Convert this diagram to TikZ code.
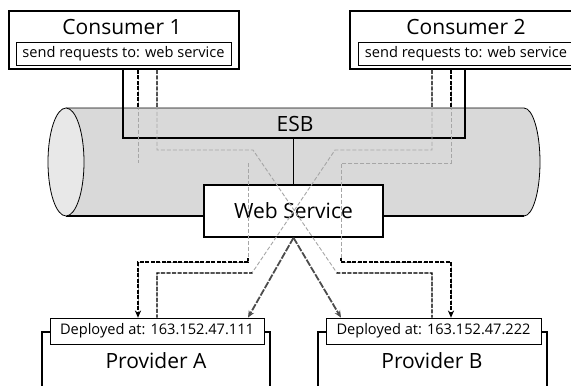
\documentclass[tikz,border=0pt]{standalone}
\usepackage{fontspec}
\setmainfont{Open Sans}
\usetikzlibrary{arrows.meta, positioning}

% message routes, drawn twice (light inside the bus, dark outside)
\newcommand{\msgroutes}{%
  \draw (con1.south -| 138,0) -- (138,163);
  \draw[->] (248,163) |- (138,262) -- (ipa.north -| 138,0);
  \draw (con1.south -| 157,0) |- (253,150) -- (337,273) -| (ipb.north -| 432,0);
  \draw (con2.south -| 432,0) |- (335,150) -- (252,273) -| (ipa.north -| 157,0);
  \draw[->] (con2.south -| 451,0) |- (341,163) |- (451,262) -- (ipb.north -| 451,0);
}

\tikzset{
  box/.style={draw, line width=1.5pt, fill=white, inner sep=0pt},
  tagbox/.style={draw, line width=0.8pt, fill=white, inner sep=0pt,
                 font=\fontsize{14.6}{16}\selectfont},
  ttl/.style={inner sep=0pt, font=\fontsize{21}{24}\selectfont},
  msg/.style={gray!70, line width=0.9pt, dash pattern=on 4pt off 2pt},
  msgdark/.style={black, line width=1.3pt, dash pattern=on 4pt off 1.5pt},
  bus/.style={line width=1.6pt},
  call/.style={gray!60!black, line width=1.8pt, dash pattern=on 7pt off 1.5pt}
}

\begin{document}
\begin{tikzpicture}[x=1pt, y=-1pt, >={Stealth[length=7pt, width=6pt]}]
  \useasboundingbox (0,0) rectangle (571,386);

  % consumers
  \node[box, minimum width=230pt, minimum height=58pt] (con1) at (124,40) {};
  \node[ttl] (t1) at (122,27) {Consumer 1};
  \node[tagbox, minimum width=215pt, minimum height=23pt] (req1) at (123.5,53.5)
    {send requests to: web service};

  \node[box, minimum width=232pt, minimum height=58pt] (con2) at (466,40) {};
  \node[ttl] (t2) at (466,27) {Consumer 2};
  \node[tagbox, minimum width=216pt, minimum height=23pt] (req2) at (466,53.5)
    {send requests to: web service};

  % providers
  \node[box, minimum width=228pt, minimum height=58pt] (pa) at (156,361) {};
  \node[ttl] (pta) at (156,361) {Provider A};
  \node[tagbox, minimum width=214pt, minimum height=26pt] (ipa) at (157,331)
    {Deployed at: 163.152.47.111};

  \node[box, minimum width=229pt, minimum height=58pt] (pb) at (432.5,361) {};
  \node[ttl] (ptb) at (432,361) {Provider B};
  \node[tagbox, minimum width=215pt, minimum height=26pt] (ipb) at (433.5,331)
    {Deployed at: 163.152.47.222};

  % ESB cylinder
  \fill[gray!30] (66,108) -- (524,108)
    arc[start angle=-90, end angle=90, x radius=16, y radius=54] -- (66,216) -- cycle;
  \draw[line width=0.8pt] (66,108) -- (524,108)
    arc[start angle=-90, end angle=90, x radius=16, y radius=54];
  \draw[line width=1.6pt] (66,216) -- (524,216);
  \draw[line width=0.8pt, fill=gray!18] (66,162) ellipse[x radius=18, y radius=54];
  \node[ttl] (esb) at (295,124) {ESB};

  \node[box, ttl, draw, fill=white, line width=1.5pt,
        minimum width=179pt, minimum height=52pt] (ws) at (293.5,211) {Web Service};

  % bus
  \draw[bus] (con1.south -| 123,0) |- (465,138) -- (con2.south -| 465,0);
  \draw[bus] (ws.north) -- (ws.north |- 0,138);

  \begin{scope}[msg]
    \msgroutes
  \end{scope}
  \begin{scope}[msgdark]
    \clip (0,0) rectangle (571,108) (0,258) rectangle (252,390)
          (337,258) rectangle (571,390) (252,273) rectangle (337,390);
    \msgroutes
  \end{scope}

  \draw[call, ->] (ws.south) -- (ipa.north -| 248,0);
  \draw[call, ->] (ws.south) -- (ipb.north -| 341,0);
\end{tikzpicture}
\end{document}
